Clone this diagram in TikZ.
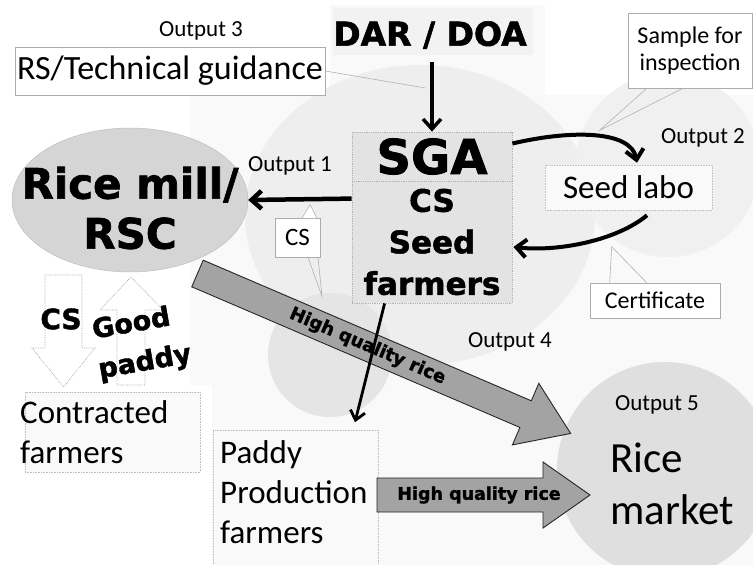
\documentclass[tikz,border=0pt]{standalone}
\usepackage{fontspec}
\setmainfont{Carlito}
\newfontfamily\heavyfont[FakeBold=1.6]{DejaVu Sans Bold}
\usetikzlibrary{calc,arrows.meta,shapes.geometric,positioning}

\newcommand{\setfs}[2]{\fontsize{#1}{#2}\selectfont}
\newcommand{\heavysize}[2]{\heavyfont\fontsize{#1}{#2}\selectfont}

\tikzset{
  outtxt/.style={font=\setfs{23}{27}, inner sep=0pt},
  labelbox/.style={draw=gray!65, fill=white, line width=0.6pt, inner sep=0pt},
  dotbox/.style={draw=gray!50, densely dotted, fill=gray!5, line width=0.6pt, inner sep=0pt},
  sgabox/.style={draw=gray!60, densely dotted, fill=gray!22, line width=0.8pt, inner sep=0pt},
  flow/.style={line width=4pt, -{Straight Barb[length=10pt,width=18pt]}},
  callout/.style={draw=gray!60, line width=0.6pt},
  blockarrow/.style={fill=gray!72, draw=black!85, line width=0.9pt},
  hollow/.style={fill=white, draw=gray!70, line width=0.7pt, densely dotted}
}

\begin{document}
\begin{tikzpicture}[x=1pt,y=-1pt]
        \useasboundingbox (0,0) rectangle (753,565);

        % Vẽ nền
        \fill[white] (0,0) rectangle (753,565);
        \fill[gray!5] (190,95) -- (330,95) -- (330,5) -- (545,5) -- (545,95) -- (753,95) -- (753,565) -- (212,565) -- (212,385) -- (190,385) -- cycle;
        \fill[gray!13] (420,215) ellipse [x radius=175, y radius=150];
        \fill[gray!12] (668,165) circle [radius=92];
        \fill[gray!20] (330,355) circle [radius=62];
        \fill[gray!10] (333,8) rectangle (533,55);
        \fill[gray!25] (665,470) circle [radius=108]; % Rice market

        % Các nút
        \node[outtxt] (out3) at (201,31) {Output 3};
        \node[labelbox, minimum width=310pt, minimum height=48pt, font=\setfs{34}{40}] (rs) at (170,71) {RS/Technical guidance};
        \node[font=\heavysize{33}{40}, inner sep=0pt] (dar) at (430,35) {DAR / DOA};
        \node[sgabox, minimum width=160pt, minimum height=49pt, font=\heavysize{48}{56}] (sga) at (432,156.5) {SGA};
        \node[sgabox, minimum width=160pt, minimum height=122pt, align=center, font=\heavysize{31}{41.5}] (sf) at (432,242) {CS\\Seed\\farmers};
        \node[ellipse, fill=gray!33, draw=gray!55, minimum width=236pt, minimum height=144pt] (rice) at (130,200) {};
        \node[align=center, inner sep=0pt, font=\heavysize{42}{50}] (ricetxt) at (130,208) {Rice mill/\\RSC};
        \node[outtxt] (out1) at (290,166) {Output 1};
        \node[labelbox, minimum width=45pt, minimum height=39pt, font=\setfs{25}{30}] (cs) at (297.5,237.5) {CS};
        \node[dotbox, minimum width=167pt, minimum height=45pt, font=\setfs{33}{40}] (lab) at (628.5,187.5) {Seed labo};
        \node[outtxt] (out2) at (703,138) {Output 2};
        \node[labelbox, minimum width=124pt, minimum height=75pt, align=center, font=\setfs{24}{27}] (sample) at (690,50.5) {Sample for\\inspection};
        \node[labelbox, minimum width=130pt, minimum height=35pt, font=\setfs{24}{28}] (cert) at (655,300.5) {Certificate};
        \node[outtxt] (out4) at (510,342) {Output 4};
        \node[outtxt] (out5) at (657,405) {Output 5};
        \node[dotbox, minimum width=175pt, minimum height=80pt] (contrbox) at (112.5,432) {};
        \node[font=\setfs{33}{40}, align=left, anchor=west, inner sep=0pt] (contr) at (20,432) {Contracted\\farmers};
        \node[dotbox, minimum width=165pt, minimum height=135pt] (paddybox) at (295.5,497.5) {};
        \node[font=\setfs{33}{40}, align=left, anchor=west, inner sep=0pt] (paddy) at (220,492) {Paddy\\Production\\farmers};
        \node[font=\setfs{43}{52}, align=left, anchor=west, inner sep=0pt] (market) at (610,484) {Rice\\market};

        % Mũi tên rỗng CS / Good paddy
        \draw[hollow] (45,275) -- (82,275) -- (82,348) -- (95,348) -- (63.5,387) -- (32,348) -- (45,348) -- cycle;
        \draw[hollow] (117,385) -- (145,385) -- (145,310) -- (163,310) -- (131,277) -- (100,310) -- (117,310) -- cycle;
        \node[font=\heavysize{28}{32}, inner sep=0pt] (csl) at (61,319) {CS};
        \node[font=\heavysize{27}{32}, inner sep=0pt, rotate=10] (good) at (131,322) {Good};
        \node[font=\heavysize{27}{32}, inner sep=0pt, rotate=10] (paddyl) at (145,363) {paddy};

        % Mũi tên xám High quality rice
        \begin{scope}[shift={(197.5,273.5)}, rotate=-23.2]
          \filldraw[blockarrow] (0,-14.5) -- (357,-14.5) -- (357,-33.5) -- (406,0) -- (357,33.5) -- (357,14.5) -- (0,14.5) -- cycle;
          \node[rotate=-23.2, inner sep=0pt, font=\heavysize{18}{20}] (hq1) at (185,0) {High quality rice};
        \end{scope}
        \filldraw[blockarrow] (377,478) -- (543,478) -- (543,462) -- (590,495) -- (543,528) -- (543,512) -- (377,512) -- cycle;
        \node[inner sep=0pt, font=\heavysize{17.5}{20}] (hq2) at (479,495) {High quality rice};

        % Chú thích
        \draw[callout] (rs.east) -- ($(rs.east)+(100,17)$);
        \filldraw[callout, fill=white] ($(cs.north)+(4.5,0.5)$) -- ($(cs.north)+(12.5,-13)$) -- ($(cs.north)+(19.5,0.5)$);
        \draw[callout] ($(cs.south)+(10.5,0)$) -- ($(cs.south)+(24.5,39)$) -- ($(cs.south)+(20.5,0)$);
        \draw[callout] ($(sample.south west)+(19,0)$) -- ($(sample.south west)+(-28,42)$) -- ($(sample.south west)+(55,0)$);
        \draw[callout] ($(cert.north west)+(20,0)$) -- ($(cert.north west)+(22,-36)$) -- ($(cert.north west)+(57,0)$);

        % Các mũi tên
        \draw[flow, line width=3.5pt] ($(sga.north |- dar.south)+(0,13)$) -- (sga.north);
        \draw[flow, line width=4.5pt] ($(sf.north west)+(0,18)$) -- (rice.east);
        \draw[flow] ($(sga.east)+(0,-13)$) .. controls +(60,-14) and +(-6,-32) .. ($(lab.north)+(8.5,-2)$);
        \draw[flow] ($(lab.south)+(18.5,5)$) .. controls +(-30,25) and +(45,5) .. ($(sf.east)+(1,5)$);
        \draw[flow, line width=2.8pt, -{Straight Barb[length=9pt,width=15pt]}] ($(sf.south west)+(33,0)$) -- ($(paddy.north west)+(135,-18)$);

\end{tikzpicture}
\end{document}
